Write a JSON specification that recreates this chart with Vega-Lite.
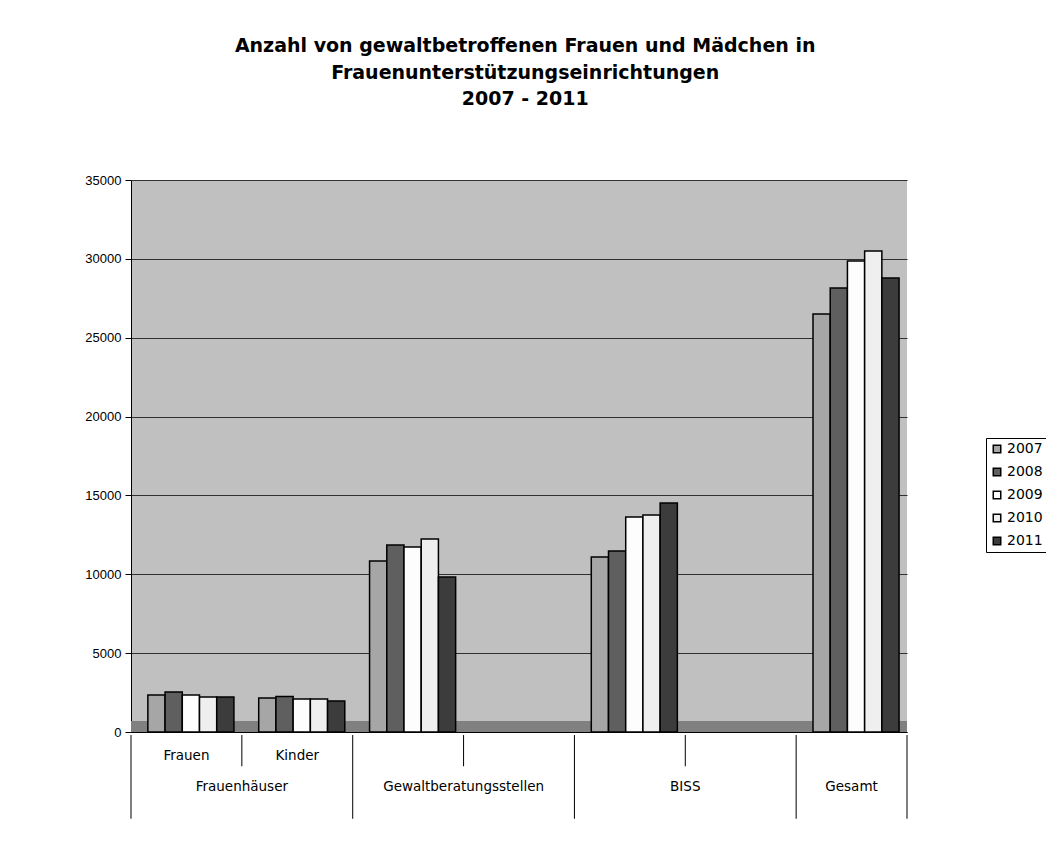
{
  "$schema": "https://vega.github.io/schema/vega-lite/v6.json",
  "padding": {"left": 84, "top": 37, "right": 0, "bottom": 0},
  "background": "white",
  "config": {"font": "Liberation Sans", "view": {"stroke": null}},
  "title": {
    "text": ["Anzahl von gewaltbetroffenen Frauen und Mädchen in", "Frauenunterstützungseinrichtungen", "2007 - 2011"],
    "fontSize": 19, "fontWeight": "bold", "lineHeight": 26.5, "font": "DejaVu Sans", "color": "black", "offset": 65, "anchor": "middle", "dx": -41
  },
  "bounds": "flush",
  "spacing": 0,
  "datasets": {
    "bars": [
      {"slot": "s1", "category": "Frauen", "year": "2007", "value": 2350},
      {"slot": "s1", "category": "Frauen", "year": "2008", "value": 2540},
      {"slot": "s1", "category": "Frauen", "year": "2009", "value": 2350},
      {"slot": "s1", "category": "Frauen", "year": "2010", "value": 2220},
      {"slot": "s1", "category": "Frauen", "year": "2011", "value": 2220},
      {"slot": "s2", "category": "Kinder", "year": "2007", "value": 2150},
      {"slot": "s2", "category": "Kinder", "year": "2008", "value": 2250},
      {"slot": "s2", "category": "Kinder", "year": "2009", "value": 2090},
      {"slot": "s2", "category": "Kinder", "year": "2010", "value": 2090},
      {"slot": "s2", "category": "Kinder", "year": "2011", "value": 1970},
      {"slot": "s3", "category": "Gewaltberatungsstellen", "year": "2007", "value": 10840},
      {"slot": "s3", "category": "Gewaltberatungsstellen", "year": "2008", "value": 11860},
      {"slot": "s3", "category": "Gewaltberatungsstellen", "year": "2009", "value": 11730},
      {"slot": "s3", "category": "Gewaltberatungsstellen", "year": "2010", "value": 12240},
      {"slot": "s3", "category": "Gewaltberatungsstellen", "year": "2011", "value": 9830},
      {"slot": "s5", "category": "BISS", "year": "2007", "value": 11100},
      {"slot": "s5", "category": "BISS", "year": "2008", "value": 11480},
      {"slot": "s5", "category": "BISS", "year": "2009", "value": 13630},
      {"slot": "s5", "category": "BISS", "year": "2010", "value": 13760},
      {"slot": "s5", "category": "BISS", "year": "2011", "value": 14520},
      {"slot": "s7", "category": "Gesamt", "year": "2007", "value": 26500},
      {"slot": "s7", "category": "Gesamt", "year": "2008", "value": 28150},
      {"slot": "s7", "category": "Gesamt", "year": "2009", "value": 29860},
      {"slot": "s7", "category": "Gesamt", "year": "2010", "value": 30500},
      {"slot": "s7", "category": "Gesamt", "year": "2011", "value": 28780}
    ],
    "labels": [
      {"pos": 0.5, "level": 1, "label": "Frauen"},
      {"pos": 1.5, "level": 1, "label": "Kinder"},
      {"pos": 1, "level": 2, "label": "Frauenhäuser"},
      {"pos": 3, "level": 2, "label": "Gewaltberatungsstellen"},
      {"pos": 5, "level": 2, "label": "BISS"},
      {"pos": 6.5, "level": 2, "label": "Gesamt"}
    ],
    "bounds": [
      {"b": 0, "kind": "full"},
      {"b": 1, "kind": "short"},
      {"b": 2, "kind": "full"},
      {"b": 3, "kind": "short"},
      {"b": 4, "kind": "full"},
      {"b": 5, "kind": "short"},
      {"b": 6, "kind": "full"},
      {"b": 7, "kind": "full"}
    ],
    "floor": [{"part": "floor"}]
  },
  "vconcat": [
    {
      "width": 776,
      "height": 552,
      "view": {"fill": "#c0c0c0", "stroke": null},
      "layer": [
        {
          "data": {"name": "floor"},
          "mark": {"type": "rect", "color": "#808080"},
          "encoding": {
            "y": {"datum": 0, "type": "quantitative"},
            "y2": {"datum": 700}
          }
        },
        {
          "data": {"name": "bars"},
          "mark": {"type": "bar", "stroke": "black", "strokeWidth": 1.5},
          "encoding": {
            "x": {
              "field": "slot", "type": "nominal",
              "scale": {"domain": ["s1", "s2", "s3", "s4", "s5", "s6", "s7"], "paddingInner": 0, "paddingOuter": 0},
              "axis": {"labels": false, "ticks": false, "title": null, "domainColor": "black", "domainWidth": 1}
            },
            "xOffset": {
              "field": "year", "type": "nominal",
              "scale": {"paddingInner": 0, "paddingOuter": 0.72, "align": 0.68}
            },
            "y": {
              "field": "value", "type": "quantitative",
              "scale": {"domain": [0, 35000]},
              "axis": {
                "values": [0, 5000, 10000, 15000, 20000, 25000, 30000, 35000],
                "format": "d", "title": null, "grid": true, "gridColor": "#303030", "gridOpacity": 1,
                "tickColor": "black", "tickSize": 6, "labelFontSize": 13, "labelColor": "black",
                "labelFont": "Liberation Sans", "domainColor": "black", "labelPadding": 4
              }
            },
            "color": {
              "field": "year", "type": "nominal",
              "scale": {"domain": ["2007", "2008", "2009", "2010", "2011"], "range": ["#a6a6a6", "#5f5f5f", "#fdfdfd", "#efefef", "#3c3c3c"]},
              "legend": {
                "orient": "none", "legendX": 855, "legendY": 258, "title": null,
                "symbolType": "square", "symbolSize": 56, "symbolStrokeColor": "black", "symbolStrokeWidth": 1.5,
                "labelFontSize": 14, "labelColor": "black", "labelFont": "DejaVu Sans", "labelOffset": 3, "rowPadding": 9,
                "padding": 4, "strokeColor": "black", "fillColor": "white"
              }
            }
          }
        }
      ]
    },
    {
      "width": 776,
      "height": 91,
      "layer": [
        {
          "data": {"name": "labels"},
          "mark": {"type": "text", "fontSize": 13.5, "font": "DejaVu Sans", "color": "black"},
          "encoding": {
            "x": {"field": "pos", "type": "quantitative", "scale": {"domain": [0, 7]}, "axis": null},
            "y": {"field": "level", "type": "quantitative", "scale": {"domain": [0.3, 3.06], "reverse": true}, "axis": null},
            "text": {"field": "label"}
          }
        },
        {
          "data": {"name": "bounds"},
          "transform": [{"filter": "datum.kind == 'full'"}],
          "mark": {"type": "rule", "color": "black", "strokeWidth": 1},
          "encoding": {
            "x": {"field": "b", "type": "quantitative"},
            "y": {"datum": 0.3, "type": "quantitative"},
            "y2": {"datum": 3.06}
          }
        },
        {
          "data": {"name": "bounds"},
          "transform": [{"filter": "datum.kind == 'short'"}],
          "mark": {"type": "rule", "color": "black", "strokeWidth": 1},
          "encoding": {
            "x": {"field": "b", "type": "quantitative"},
            "y": {"datum": 0.3, "type": "quantitative"},
            "y2": {"datum": 1.33}
          }
        }
      ]
    }
  ]
}
